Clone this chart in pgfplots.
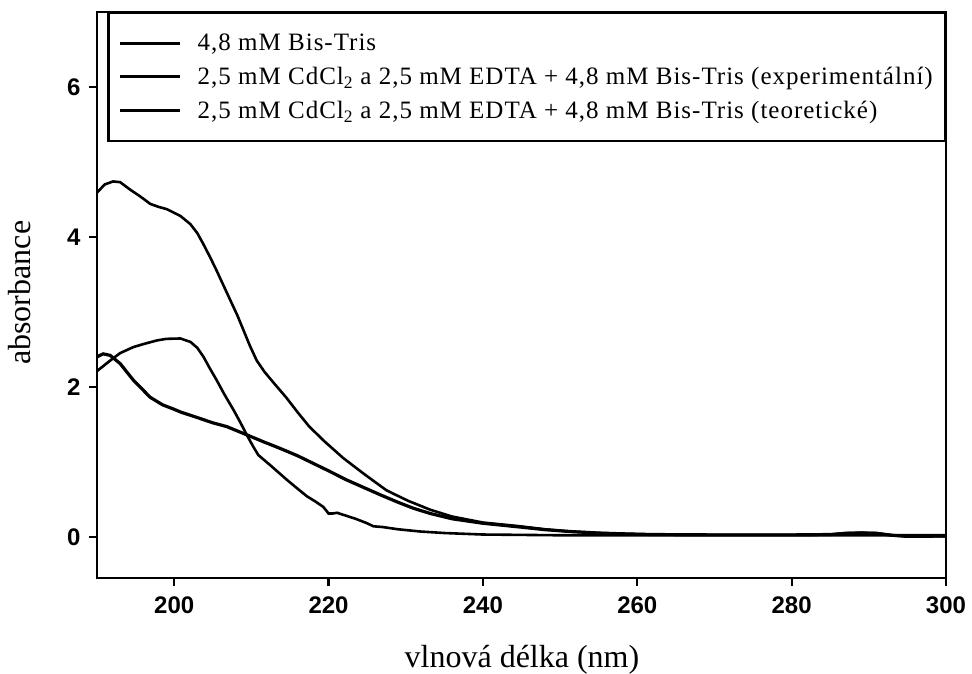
\documentclass[border=0pt]{standalone}
\usepackage{fontspec}
\setmainfont{Liberation Serif}
\newfontfamily\arialfont{Liberation Sans}
\newfontfamily\legfont[LetterSpace=4]{Liberation Serif}
\usepackage{pgfplots}
\pgfplotsset{compat=1.18}

% 4,8 mM Bis-Tris
\pgfplotstableread{
x y
190 2.40
190.8 2.44
191.7 2.42
193 2.31
194.7 2.09
196.9 1.86
198.5 1.76
200 1.70
200.8 1.665
203 1.59
205 1.52
206.8 1.47
209.4 1.36
211.5 1.27
213.7 1.18
216 1.08
218 0.98
220 0.88
222.3 0.76
224.5 0.66
226.7 0.56
229 0.46
231 0.38
233.2 0.31
236 0.24
240 0.18
244.8 0.13
248 0.095
251.3 0.07
255 0.05
258 0.04
262 0.03
270 0.025
280 0.025
285 0.03
287 0.045
289 0.05
291 0.045
293 0.02
295 0.005
300 0.01
}\bistris

% experimental
\pgfplotstableread{
x y
190 2.21
191.7 2.35
193 2.45
194.7 2.53
196 2.57
197.8 2.62
199 2.64
200.8 2.645
202.1 2.60
203 2.52
203.8 2.40
204.6 2.25
205.5 2.09
206.5 1.90
207.7 1.69
208.6 1.52
209.4 1.36
210.2 1.21
210.9 1.09
212.5 0.95
214.6 0.76
216 0.64
217.2 0.54
218.3 0.47
219.3 0.40
219.7 0.35
220 0.31
220.5 0.31
221.1 0.32
222 0.29
223.5 0.24
225 0.18
225.8 0.14
227 0.13
229 0.10
231.9 0.07
235 0.05
240 0.03
250 0.02
260 0.02
280 0.02
300 0.02
}\experim

% theoretical
\pgfplotstableread{
x y
190 4.59
191 4.70
192.1 4.74
193 4.73
194.3 4.63
195.6 4.54
196.9 4.44
198 4.40
199.05 4.37
200.8 4.28
202.1 4.17
203 4.05
203.8 3.90
204.7 3.72
205.5 3.55
206.4 3.35
207.3 3.15
208.2 2.95
209 2.75
209.8 2.55
210.7 2.35
211.7 2.20
213 2.04
214.5 1.86
216 1.66
217.5 1.47
219.5 1.27
221.9 1.05
224.7 0.83
227.5 0.62
230.3 0.48
233.2 0.36
236 0.27
240 0.19
244.8 0.14
248 0.10
251.3 0.07
255 0.05
258 0.04
262 0.03
270 0.025
280 0.025
285 0.03
287 0.05
289 0.055
291 0.05
293 0.02
295 0.005
300 0.005
}\theor

\begin{document}
\begin{tikzpicture}
\path[use as bounding box] (-97pt,-95pt) rectangle (875pt,578pt);
\begin{axis}[
  at={(0,0)}, anchor=south west,
  scale only axis, width=849pt, height=566pt,
  xmin=190, xmax=300, ymin=-0.55, ymax=7,
  xtick={200,220,...,300}, ytick={0,2,4,6},
  tick align=outside, tick pos=left,
  major tick length=8pt,
  axis line style={line width=2.6pt},
  every tick/.style={line width=2.2pt, black},
  /pgf/number format/assume math mode=true,
  tick label style={font=\arialfont\bfseries\fontsize{24}{28}\selectfont},
  xticklabel style={yshift=-7pt},
  yticklabel style={xshift=-5pt},
  xlabel={vlnová délka (nm)},
  ylabel={absorbance},
  label style={font=\fontsize{32}{36}\selectfont},
  xlabel style={at={(rel axis cs:0.5006,-0.1449)}, anchor=center},
  ylabel style={at={(rel axis cs:-0.0907,0.504)}, anchor=center},
  legend style={at={(rel axis cs:1,1)}, anchor=north east, draw=black,
    line width=2.4pt, inner xsep=10pt, inner ysep=19pt, row sep=11pt,
    column sep=14pt,
    font=\legfont\fontsize{25}{29}\selectfont},
  legend cell align=left,
  legend image code/.code={\draw[#1] (0pt,0pt) -- (60pt,0pt);},
]
\addplot[black, line width=3.2pt] table {\bistris};
\addplot[black, line width=2.6pt] table {\experim};
\addplot[black, line width=2.6pt] table {\theor};
\legend{{4,8 mM Bis-Tris},
  {2,5 mM CdCl\textsubscript{2} a 2,5 mM EDTA + 4,8 mM Bis-Tris (experimentální)},
  {2,5 mM CdCl\textsubscript{2} a 2,5 mM EDTA + 4,8 mM Bis-Tris (teoretické)}}
\end{axis}
\end{tikzpicture}
\end{document}
